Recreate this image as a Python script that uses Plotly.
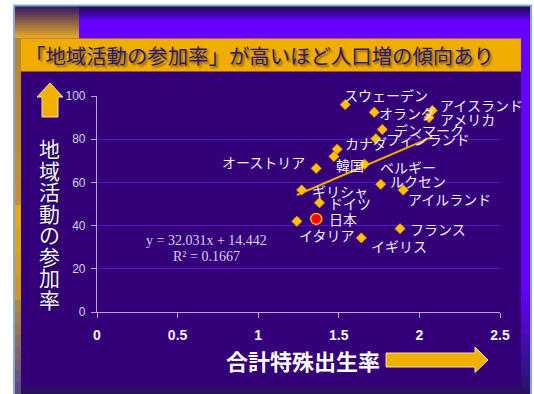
import plotly.graph_objects as go

# ---- data -------------------------------------------------------------
countries = ["スウェーデン", "オランダ", "アイスランド", "アメリカ", "デンマーク",
             "フィンランド", "カナダ", "韓国", "ベルギー", "オーストリア",
             "ルクセン", "アイルランド", "ギリシャ", "ドイツ", "日本",
             "イタリア", "フランス", "イギリス"]
tfr = [1.54, 1.72, 2.08, 2.06, 1.77,
       1.73, 1.49, 1.47, 1.66, 1.36,
       1.76, 1.90, 1.27, 1.38, 1.36,
       1.24, 1.88, 1.64]
participation = [96.0, 92.5, 93.3, 90.0, 84.5,
                 80.2, 75.4, 72.0, 68.4, 66.5,
                 59.1, 56.5, 56.5, 50.6, 43.1,
                 42.0, 38.6, 34.3]
highlight = "日本"

# linear trend  y = slope * x + intercept
slope = 32.031
intercept = 14.442
r_squared = 0.1667

x_ticks = [0, 0.5, 1, 1.5, 2, 2.5]
y_ticks = [0, 20, 40, 60, 80, 100]

title_text = "「地域活動の参加率」が高いほど人口増の傾向あり"
x_title = "合計特殊出生率"
y_title = "地域活動の参加率"

# ---- geometry helpers (pixel -> paper) -------------------------------
W, H = 534, 394
ML, MR, MT, MB = 97, 34, 96, 82
PW = W - ML - MR
PH = H - MT - MB


def px(x):
    return (x - ML) / PW


def py(y):
    return (H - MB - y) / PH


def hex_mix(c0, c1, t):
    a = [int(c0[i:i + 2], 16) for i in (1, 3, 5)]
    b = [int(c1[i:i + 2], 16) for i in (1, 3, 5)]
    return "#" + "".join(f"{round(a[k] + (b[k] - a[k]) * t):02x}" for k in range(3))


shapes = []


def rect(x0, y0, x1, y1, color):
    shapes.append(dict(type="rect", xref="paper", yref="paper",
                       x0=px(x0), x1=px(x1), y0=py(y0), y1=py(y1),
                       fillcolor=color, line=dict(width=0), layer="below"))


def vgrad(x0, y0, x1, y1, c0, c1, n=12):
    step = (y1 - y0) / n
    for i in range(n):
        rect(x0, y0 + i * step, x1, y0 + (i + 1) * step + 0.6,
             hex_mix(c0, c1, i / max(n - 1, 1)))


# ---- slide background ------------------------------------------------
rect(14, 6, 531, 394, "#6600ff")
vgrad(14, 6, 531, 22, "#1c0c4c", "#6600ff", 10)
vgrad(15, 7, 79, 38, "#3c2262", "#e2a428", 12)
vgrad(15, 38, 21, 205, "#b8862c", "#c89026", 6)
vgrad(15, 205, 21, 300, "#e8a812", "#d09a22", 4)
vgrad(15, 300, 21, 394, "#b08840", "#5c4c86", 8)
vgrad(521, 280, 530, 388, "#6600ff", "#2c1470", 10)
rect(21, 71, 521, 387, "#33007a")
rect(21, 387, 530, 394, "#2a1160")
rect(21, 38.5, 521, 71.5, "#f0ad00")
# slide frame
shapes.append(dict(type="path", xref="paper", yref="paper", layer="below",
                   path=f"M {px(14)},{py(400)} L {px(14)},{py(5.5)} "
                        f"L {px(531)},{py(5.5)} L {px(531)},{py(400)}",
                   line=dict(color="#86a8d4", width=2)))

# axis-title arrows
up = [(50, 83), (63, 97), (58, 97), (58, 117), (42, 117), (42, 97), (37, 97)]
right = [(386, 353), (475, 353), (475, 347), (488, 360), (475, 372.5),
         (475, 367), (386, 367)]
for pts in (up, right):
    path = "M " + " L ".join(f"{px(a)},{py(b)}" for a, b in pts) + " Z"
    shapes.append(dict(type="path", xref="paper", yref="paper", path=path,
                       fillcolor="#f0b000", line=dict(color="#f4e2b0", width=1),
                       layer="above"))

# ---- traces ----------------------------------------------------------
fig = go.Figure()

others = [i for i, c in enumerate(countries) if c != highlight]
hi = [i for i, c in enumerate(countries) if c == highlight]

x_lo, x_hi = min(tfr), max(tfr)
fig.add_trace(go.Scatter(
    x=[x_lo, x_hi], y=[slope * x_lo + intercept, slope * x_hi + intercept],
    mode="lines", line=dict(color="#f0a800", width=2), hoverinfo="skip"))

fig.add_trace(go.Scatter(
    x=[tfr[i] for i in others], y=[participation[i] for i in others],
    mode="markers",
    marker=dict(symbol="diamond", size=8, color="#ffc000",
                line=dict(color="#e09000", width=0.6))))

fig.add_trace(go.Scatter(
    x=[tfr[i] for i in hi], y=[participation[i] for i in hi],
    mode="markers",
    marker=dict(symbol="circle", size=11, color="#ff0000",
                line=dict(color="#ffb000", width=1.5))))

# ---- point labels ----------------------------------------------------
label_offsets = {
    "スウェーデン": (-3, 10, "left"),
    "オランダ": (3, -1, "left"),
    "アイスランド": (6, 5, "left"),
    "アメリカ": (9, -1, "left"),
    "デンマーク": (10, -1, "left"),
    "フィンランド": (8, 0, "left"),
    "カナダ": (6, 6, "left"),
    "韓国": (0, -9, "left"),
    "ベルギー": (13, -3, "left"),
    "オーストリア": (-9, 6, "right"),
    "ルクセン": (7, 3, "left"),
    "アイルランド": (3, -9, "left"),
    "ギリシャ": (8, -1, "left"),
    "ドイツ": (8, 0, "left"),
    "日本": (11, 0, "left"),
    "イタリア": (0, -14, "left"),
    "フランス": (8, 0, "left"),
    "イギリス": (8, -8, "left"),
}

annotations = []
label_font = dict(family="Noto Sans CJK JP", size=14, color="#eeeef6")
for name, xv, yv in zip(countries, tfr, participation):
    dx, dy, anchor = label_offsets[name]
    annotations.append(dict(x=xv, y=yv, xref="x", yref="y", text=name,
                            showarrow=False, xanchor=anchor, yanchor="middle",
                            xshift=dx, yshift=dy, font=label_font))

# regression text
eq_font = dict(family="Liberation Serif", size=14, color="#d8d0ee")
annotations.append(dict(x=px(206.5), y=py(240), xref="paper", yref="paper",
                        text=f"y = {slope:.3f}x + {intercept:.3f}",
                        showarrow=False, xanchor="center", yanchor="middle",
                        font=eq_font))
annotations.append(dict(x=px(206.5), y=py(256.5), xref="paper", yref="paper",
                        text=f"R² = {r_squared:.4f}",
                        showarrow=False, xanchor="center", yanchor="middle",
                        font=eq_font))

# headline on gold bar
annotations.append(dict(x=px(259), y=py(55), xref="paper", yref="paper",
                        text=title_text, showarrow=False,
                        xanchor="center", yanchor="middle",
                        font=dict(family="Noto Sans CJK JP", size=20.4,
                                  color="#2b1b6e",
                                  shadow="2px 2px 2px rgba(110,70,20,0.75)")))

# vertical y-axis title, one glyph per line
for i, ch in enumerate(y_title):
    annotations.append(dict(x=px(49), y=py(148 + i * 21.5), xref="paper",
                            yref="paper", text=ch, showarrow=False,
                            xanchor="center", yanchor="middle",
                            font=dict(family="Noto Sans CJK JP", size=21,
                                      color="#f2f2fa",
                                      shadow="1px 1px 1px rgba(0,0,0,0.6)")))

# x-axis title
annotations.append(dict(x=px(302.5), y=py(360), xref="paper", yref="paper",
                        text=f"<b>{x_title}</b>", showarrow=False,
                        xanchor="center", yanchor="middle",
                        font=dict(family="Noto Sans CJK JP", size=22,
                                  color="#ffffff")))

# ---- layout ------------------------------------------------------------
axis_line = "#b4a6d6"
fig.update_layout(
    width=W, height=H,
    margin=dict(l=ML, r=MR, t=MT, b=MB, pad=0),
    paper_bgcolor="#ffffff",
    plot_bgcolor="rgba(0,0,0,0)",
    showlegend=False,
    shapes=shapes,
    annotations=annotations,
    xaxis=dict(range=[0, 2.5], tickvals=x_ticks,
               ticktext=[f"<b>{v:g}</b>" for v in x_ticks],
               showgrid=False, zeroline=False, showline=True,
               linecolor=axis_line, linewidth=1.2, ticks="outside",
               ticklen=5, tickcolor=axis_line, ticklabelstandoff=5,
               tickfont=dict(family="Liberation Sans", size=14, color="#f4f4fa")),
    yaxis=dict(range=[0, 100], tickvals=y_ticks,
               showgrid=True, gridcolor="#5214c6", gridwidth=1,
               zeroline=False, showline=True,
               linecolor=axis_line, linewidth=1.2, ticks="outside",
               ticklen=5, tickcolor=axis_line, ticklabelstandoff=3,
               tickfont=dict(family="Liberation Sans", size=12, color="#d6d2e6")),
)

fig.write_html("out.html")
